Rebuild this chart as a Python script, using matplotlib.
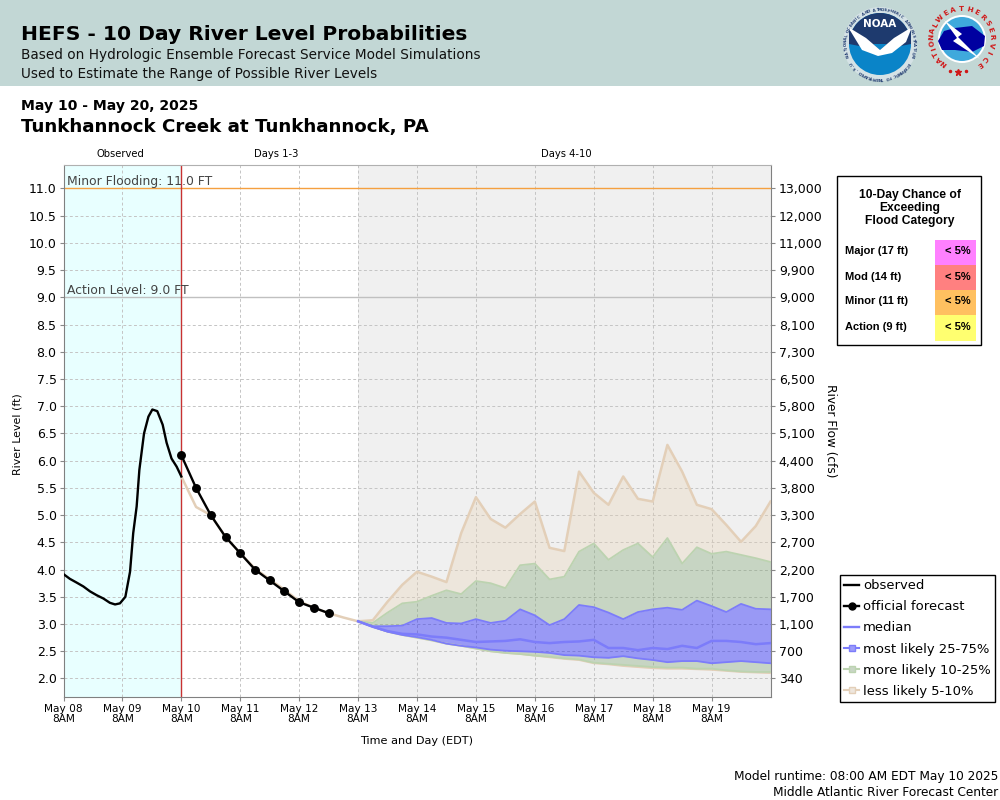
import numpy as np
import matplotlib
matplotlib.use('Agg')
import matplotlib.pyplot as plt
from matplotlib.lines import Line2D
from matplotlib.patches import Rectangle, Circle, Polygon, Wedge

plt.rcParams['font.family'] = ['DejaVu Sans']

# hours since May 08 8AM
obs_hours = [0.2, 2.6, 5.4, 8.1, 10.8, 13.5, 16.2, 18.9, 21, 23, 25.2, 27.1, 28.4, 29.8,
             30.9, 32.8, 34.6, 36.2, 38.2, 40.4, 42, 44, 46.1, 48]
obs_level = [3.91, 3.83, 3.76, 3.69, 3.60, 3.53, 3.47, 3.39, 3.36, 3.38, 3.50, 3.96, 4.67, 5.16,
             5.83, 6.50, 6.81, 6.94, 6.91, 6.66, 6.33, 6.04, 5.89, 5.71]

# official forecast, every 6 hours from May 10 8AM
official = [6.1, 5.5, 5.0, 4.6, 4.3, 4.0, 3.8, 3.6, 3.4, 3.3, 3.2]

# ensemble, every 6 hours from May 10 8AM; first 13 points are shared
early = [5.71, 5.15, 5.0, 4.6, 4.3, 4.02, 3.82, 3.63, 3.42, 3.3, 3.2, 3.12, 3.05]
top_5 = early + [3.07, 3.41, 3.72, 3.96, 3.87, 3.77, 4.67, 5.33, 4.93, 4.77, 5.02, 5.25, 4.4, 4.34,
                 5.8, 5.41, 5.19, 5.71, 5.3, 5.25, 6.29, 5.8, 5.19, 5.11, 4.82, 4.51, 4.8, 5.25]
top_10 = early + [3.02, 3.21, 3.38, 3.41, 3.52, 3.62, 3.55, 3.79, 3.75, 3.66, 4.08, 4.11, 3.82, 3.87,
                  4.33, 4.48, 4.18, 4.36, 4.48, 4.23, 4.58, 4.11, 4.41, 4.29, 4.33, 4.27, 4.21, 4.14]
top_25 = early + [2.96, 2.96, 2.97, 3.09, 3.11, 3.02, 3.01, 3.09, 3.02, 3.06, 3.27, 3.16, 2.98, 3.09,
                  3.35, 3.31, 3.21, 3.09, 3.22, 3.27, 3.30, 3.26, 3.43, 3.33, 3.22, 3.37, 3.28, 3.27]
median = early + [2.95, 2.87, 2.82, 2.81, 2.77, 2.75, 2.71, 2.67, 2.68, 2.69, 2.72, 2.67, 2.65, 2.67,
                  2.68, 2.71, 2.56, 2.56, 2.52, 2.56, 2.54, 2.6, 2.56, 2.69, 2.69, 2.67, 2.63, 2.65]
low_25 = early + [2.95, 2.86, 2.80, 2.76, 2.71, 2.64, 2.6, 2.57, 2.53, 2.51, 2.5, 2.49, 2.47, 2.43,
                  2.42, 2.39, 2.38, 2.41, 2.37, 2.34, 2.3, 2.32, 2.32, 2.28, 2.3, 2.32, 2.3, 2.28]
low_10 = early + [2.95, 2.86, 2.8, 2.75, 2.7, 2.64, 2.6, 2.55, 2.5, 2.47, 2.45, 2.42, 2.4, 2.37,
                  2.35, 2.29, 2.27, 2.25, 2.23, 2.21, 2.2, 2.2, 2.18, 2.18, 2.15, 2.13, 2.12, 2.12]
low_5 = early + [2.95, 2.86, 2.8, 2.75, 2.7, 2.64, 2.6, 2.55, 2.5, 2.47, 2.45, 2.42, 2.39, 2.36,
                 2.34, 2.28, 2.26, 2.23, 2.21, 2.19, 2.18, 2.18, 2.17, 2.16, 2.14, 2.12, 2.11, 2.1]

level_ticks = [2.0, 2.5, 3.0, 3.5, 4.0, 4.5, 5.0, 5.5, 6.0, 6.5, 7.0, 7.5, 8.0, 8.5, 9.0, 9.5, 10.0, 10.5, 11.0]
flow_labels = ['340', '700', '1,100', '1,700', '2,200', '2,700', '3,300', '3,800', '4,400', '5,100', '5,800',
               '6,500', '7,300', '8,100', '9,000', '9,900', '11,000', '12,000', '13,000']
day_labels = ['May 08', 'May 09', 'May 10', 'May 11', 'May 12', 'May 13', 'May 14', 'May 15', 'May 16',
              'May 17', 'May 18', 'May 19']

flood_names = ['Major (17 ft)', 'Mod (14 ft)', 'Minor (11 ft)', 'Action (9 ft)']
flood_chance = ['< 5%', '< 5%', '< 5%', '< 5%']
flood_colors = ['#ff80ff', '#ff8080', '#ffc060', '#ffff70']

TAN_FILL = (233/255, 207/255, 177/255, 0.3)
GREEN_FILL = (107/255, 153/255, 93/255, 0.3)
BLUE_FILL = (0, 0, 1, 0.36)
TAN_LINE = '#e3cfb8'
GREEN_LINE = '#bcd3b0'
BLUE_LINE = '#7c7cfa'


def ring_text(axis, text, cx, cy, radius, start, stop, size, color):
    # one rotated letter at a time, angles in degrees clockwise from the top
    for i, ch in enumerate(text):
        ang = start + i * (stop - start) / (len(text) - 1)
        rad = np.deg2rad(ang)
        axis.text(cx + radius * np.sin(rad), cy - radius * np.cos(rad), ch, fontsize=size, fontweight='bold',
                  color=color, ha='center', va='center', rotation=-ang)


fig = plt.figure(figsize=(10, 8), dpi=100)

# page layer in pixel coordinates
page = fig.add_axes([0, 0, 1, 1], zorder=0)
page.set_xlim(0, 1000)
page.set_ylim(800, 0)
page.axis('off')
page.add_patch(Rectangle((0, 0), 1000, 86, color='#c2d7d5', lw=0))
page.text(21, 40, 'HEFS - 10 Day River Level Probabilities', fontsize=14.6, fontweight='bold', color='black')
page.text(21, 59, 'Based on Hydrologic Ensemble Forecast Service Model Simulations', fontsize=9.84, color='#111111')
page.text(21, 78, 'Used to Estimate the Range of Possible River Levels', fontsize=9.84, color='#111111')
page.text(21, 110, 'May 10 - May 20, 2025', fontsize=10.1, fontweight='bold')
page.text(21, 132, 'Tunkhannock Creek at Tunkhannock, PA', fontsize=13.15, fontweight='bold')
page.text(120, 157, 'Observed', fontsize=7.2, ha='center')
page.text(276, 157, 'Days 1-3', fontsize=7.2, ha='center')
page.text(566, 157, 'Days 4-10', fontsize=7.2, ha='center')
page.text(417, 744, 'Time and Day (EDT)', fontsize=8.1, ha='center')
page.text(18, 434, 'River Level (ft)', fontsize=7.9, rotation=90, ha='center', va='center')
page.text(831, 431, 'River Flow (cfs)', fontsize=8.7, rotation=-90, ha='center', va='center')
page.text(998, 780, 'Model runtime: 08:00 AM EDT May 10 2025', fontsize=8.77, ha='right')
page.text(998, 796, 'Middle Atlantic River Forecast Center', fontsize=8.77, ha='right')

# NOAA logo
page.add_patch(Circle((880, 44), 37, color='#d5e2e6', lw=0))
page.add_patch(Circle((880, 44), 31, color='#0a84c8', lw=0))
page.add_patch(Wedge((880, 44), 31, 180, 360, color='#1e3a6e', lw=0))
page.add_patch(Polygon([(849, 30), (866, 38), (880, 50), (894, 38), (911, 30), (911, 44), (880, 50), (849, 44)],
                       color='#1e3a6e', lw=0))
page.add_patch(Polygon([(848, 27), (866, 38), (880, 50), (894, 38), (912, 27), (906, 42), (892, 53), (878, 56),
                        (862, 50)], color='white', lw=0))
page.text(880, 24, 'NOAA', fontsize=7.5, fontweight='bold', color='white', ha='center', va='center')
ring_text(page, 'NATIONAL OCEANIC AND ATMOSPHERIC ADMINISTRATION', 880, 44, 34, -110, 110, 2.7, '#1e3a6e')
ring_text(page, 'U.S. DEPARTMENT OF COMMERCE', 880, 44, 34, 235, 125, 2.7, '#1e3a6e')

# NWS logo
page.add_patch(Circle((962, 39), 24, color='#ffffff', lw=0))
page.add_patch(Circle((962, 39), 22, color='#3fa9dc', lw=0))
page.add_patch(Polygon([(938, 41), (944, 31), (955, 28), (972, 26), (985, 36), (984, 46), (972, 52),
                        (955, 50), (942, 50)], color='#0000a0', lw=0))
page.add_patch(Polygon([(944, 20), (962, 34), (958, 37), (980, 59), (953, 41), (957, 38)], color='white', lw=0))
ring_text(page, 'NATIONAL', 962, 39, 30, -143, -63, 5.2, '#d01818')
ring_text(page, 'WEATHER', 962, 39, 30, -47, 45, 5.2, '#d01818')
ring_text(page, 'SERVICE', 962, 39, 30, 57, 145, 5.2, '#d01818')
page.plot([950, 966], [71, 71], ls='none', marker='o', ms=1.5, color='#d01818')
page.plot([958], [72], ls='none', marker='*', ms=5, color='#d01818')
page.set_xlim(0, 1000)
page.set_ylim(800, 0)

# main chart
ax = fig.add_axes([63.5 / 1000, 1 - 697 / 800, 707 / 1000, 532.5 / 800], zorder=1)
ax.set_xlim(0, 12)
ax.set_ylim(1.66, 11.44)
ax.axvspan(0, 2, color='#e8ffff', lw=0, zorder=0)
ax.axvspan(5, 12, color='#f0f0f0', lw=0, zorder=0)
ax.set_yticks(level_ticks)
ax.set_yticklabels(['%.1f' % v for v in level_ticks], fontsize=9)
ax.set_xticks(range(12))
ax.set_xticklabels([d + '\n8AM' for d in day_labels], fontsize=7.6, linespacing=1.05)
ax.tick_params(axis='both', length=3, width=0.8, color='#888888', pad=2)
ax.grid(True, color='#c4c4c4', linestyle=(0, (3, 2.5)), linewidth=0.7, zorder=1)
ax.set_axisbelow(True)
for side in ['left', 'bottom', 'right']:
    ax.spines[side].set_color('#808080')
ax.spines['top'].set_color('#b0b0b0')

right = ax.twinx()
right.set_ylim(ax.get_ylim())
right.set_yticks(level_ticks)
right.set_yticklabels(flow_labels, fontsize=9)
right.tick_params(axis='y', length=3, width=0.8, color='#888888', pad=3)
for side in right.spines:
    right.spines[side].set_visible(False)

ax.axhline(11.0, color='#f5a040', lw=1, zorder=2)
ax.axhline(9.0, color='#c0c0c0', lw=1, zorder=2)
ax.axvline(2, color='#c83232', lw=1, zorder=2)
ax.text(0.06, 11.0, 'Minor Flooding: 11.0 FT', fontsize=8.9, color='#444444', va='bottom', zorder=3)
ax.text(0.06, 9.0, 'Action Level: 9.0 FT', fontsize=8.9, color='#444444', va='bottom', zorder=3)

ens_days = 2 + np.arange(len(top_5)) / 4
ax.fill_between(ens_days, top_10, top_5, color=TAN_FILL, lw=0, zorder=3)
ax.fill_between(ens_days, low_5, low_10, color=TAN_FILL, lw=0, zorder=3)
ax.fill_between(ens_days, top_25, top_10, color=GREEN_FILL, lw=0, zorder=3)
ax.fill_between(ens_days, low_10, low_25, color=GREEN_FILL, lw=0, zorder=3)
ax.fill_between(ens_days, low_25, top_25, color=BLUE_FILL, lw=0, zorder=3)
# inner bands only open up from May 13, before that the tan line shows
n0 = len(early) - 1
ax.plot(ens_days, top_5, color=TAN_LINE, lw=1.8, zorder=4)
ax.plot(ens_days[n0:], low_5[n0:], color=TAN_LINE, lw=1.4, zorder=4)
ax.plot(ens_days[n0:], top_10[n0:], color=GREEN_LINE, lw=1.3, zorder=4)
ax.plot(ens_days[n0:], low_10[n0:], color=GREEN_LINE, lw=1.3, zorder=4)
ax.plot(ens_days[n0:], top_25[n0:], color=BLUE_LINE, lw=1.3, zorder=5)
ax.plot(ens_days[n0:], low_25[n0:], color=BLUE_LINE, lw=1.3, zorder=5)
ax.plot(ens_days[n0:], median[n0:], color=BLUE_LINE, lw=1.8, zorder=5)

ax.plot(np.array(obs_hours) / 24, obs_level, color='black', lw=1.7, zorder=6)
off_days = 2 + np.arange(len(official)) / 4
ax.plot(off_days, official, color='black', lw=1.7, marker='o', ms=5.4, zorder=7)

# overlay for the legend and the flood table
over = fig.add_axes([0, 0, 1, 1], zorder=2)
over.set_xlim(0, 1000)
over.set_ylim(800, 0)
over.axis('off')
over.patch.set_alpha(0)

# flood category table
over.add_patch(Rectangle((836.5, 176), 144, 169, fc='white', ec='black', lw=1))
over.text(910, 195, '10-Day Chance of', family='Liberation Sans', fontsize=8.7, fontweight='bold', ha='center', va='center')
over.text(910, 208, 'Exceeding', family='Liberation Sans', fontsize=8.7, fontweight='bold', ha='center', va='center')
over.text(910, 221, 'Flood Category', family='Liberation Sans', fontsize=8.7, fontweight='bold', ha='center', va='center')
for i in range(4):
    y0 = 240 + i * 25
    over.add_patch(Rectangle((935, y0), 41, 25.5, color=flood_colors[i], lw=0))
    over.text(845, y0 + 11.5, flood_names[i], family='Liberation Sans', fontsize=8, fontweight='bold', va='center')
    over.text(957.5, y0 + 11.5, flood_chance[i], family='Liberation Sans', fontsize=8, fontweight='bold',
              ha='center', va='center')

# legend
handles = [
    Line2D([], [], color='black', lw=1.7),
    Line2D([], [], color='black', lw=1.7, marker='o', ms=5),
    Line2D([], [], color=BLUE_LINE, lw=1.7),
    Line2D([], [], color=BLUE_LINE, lw=1.5, marker='s', ms=5, mfc='#9c9cfa', mec=BLUE_LINE),
    Line2D([], [], color=GREEN_LINE, lw=1.5, marker='s', ms=5, mfc='#c8d6c4', mec=GREEN_LINE),
    Line2D([], [], color=TAN_LINE, lw=1.5, marker='s', ms=5, mfc='#eee6dd', mec=TAN_LINE),
]
labels = ['observed', 'official forecast', 'median', 'most likely 25-75%', 'more likely 10-25%', 'less likely 5-10%']
leg = over.legend(handles, labels, loc='upper left', bbox_to_anchor=(839.5 / 1000, 1 - 575 / 800),
                  bbox_transform=fig.transFigure, borderaxespad=0, fontsize=9.45, fancybox=False,
                  edgecolor='black', framealpha=1, handlelength=1.2, handletextpad=0.27,
                  labelspacing=0.62, borderpad=0.32)
leg.get_frame().set_linewidth(1)

fig.savefig('out.png', dpi=100)
